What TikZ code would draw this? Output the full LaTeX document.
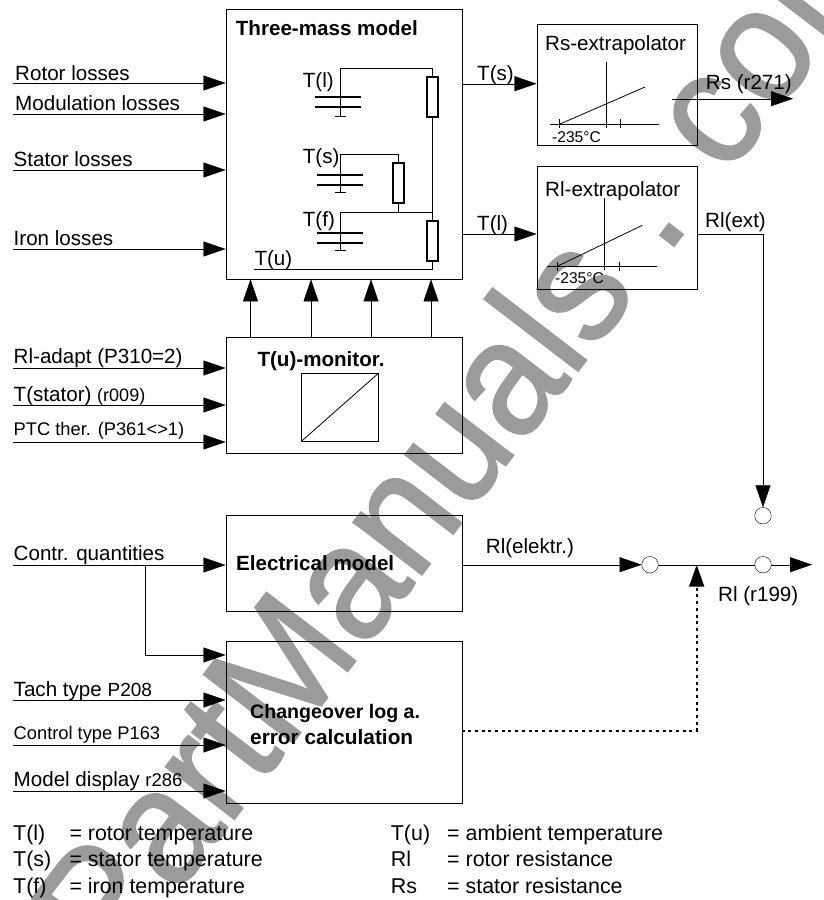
\documentclass[tikz,border=0pt]{standalone}
\usepackage{graphicx}
\usepackage{fontspec}
\setmainfont{Liberation Sans}
\newfontfamily\wmfont[FakeBold=1.2]{Liberation Sans}
\usetikzlibrary{arrows.meta}
\definecolor{wm}{RGB}{155,155,155}
\newcommand{\fs}[1]{\fontsize{#1}{#1}\selectfont}
\tikzset{
  line width=1.1pt,
  txt/.style={inner sep=0pt,anchor=base west,font=\fs{20.6}},
  txts/.style={inner sep=0pt,anchor=base west,font=\fs{18.3}},
  lgd/.style={inner sep=0pt,anchor=base west,font=\fs{21.4}},
  bold/.style={inner sep=0pt,anchor=base west,font=\fs{20.6}\bfseries},
  tiny/.style={inner sep=0pt,anchor=base west,font=\fs{15.6}},
  block/.style={draw,inner sep=0pt,fill=none},
  arr/.style={-{Triangle[length=22pt,width=15pt]}},
  res/.style={draw,line width=2pt,fill=white,inner sep=0pt,minimum width=11pt,minimum height=39.5pt},
  plate/.style={line width=2pt},
  junc/.style={draw,circle,fill=white,inner sep=0pt,minimum size=16.5pt}
}
\begin{document}
\begin{tikzpicture}[x=1pt,y=-1pt]
\useasboundingbox (0,0) rectangle (824,900);
% watermark
\begin{scope}
\clip (0,0) rectangle (824,900);
\node[inner sep=0pt,anchor=base west,rotate=52.5,text=wm,font=\fs{163}\wmfont] (wmark) at (113,977) {\scalebox{.945}[1]{PartManuals . com}};
\end{scope}
% blocks
\node[block,minimum width=236pt,minimum height=270.5pt,anchor=north west] (tm) at (225.5,8.5) {};
\node[block,minimum width=160.5pt,minimum height=121pt,anchor=north west] (rsx) at (536.5,24) {};
\node[block,minimum width=160.5pt,minimum height=123pt,anchor=north west] (rlx) at (536.5,166) {};
\node[block,minimum width=236pt,minimum height=116pt,anchor=north west] (mon) at (225.5,337) {};
\node[block,minimum width=236pt,minimum height=96pt,anchor=north west] (el) at (225.5,515) {};
\node[block,minimum width=236pt,minimum height=162pt,anchor=north west] (cl) at (225.5,641) {};
% block titles
\node[bold] (ttm) at (235.7,35) {Three-mass model};
\node[txt] (trs) at (545,50) {Rs-extrapolator};
\node[txt] (trl) at (545,196) {Rl-extrapolator};
\node[bold] (tmon) at (257.3,366) {T(u)-monitor.};
\node[bold] (tel) at (236,570) {Electrical model};
\node[bold,font=\fs{19.6}\bfseries] (tc1) at (250,718.7) {Changeover log a.};
\node[bold,font=\fs{20.8}\bfseries] (tc2) at (250,744.3) {error calculation};
% input coordinates
\coordinate (i1) at (13,83); \coordinate (i2) at (13,114); \coordinate (i3) at (13,170); \coordinate (i4) at (13,249);
\coordinate (m1) at (13,368); \coordinate (m2) at (13,405); \coordinate (m3) at (13,442);
\coordinate (e1) at (13,565); \coordinate (b1) at (145,565); \coordinate (b2) at (145,655);
\coordinate (c1) at (13,700); \coordinate (c2) at (13,745); \coordinate (c3) at (13,791);
\draw[arr] (i1) -- (i1 -| tm.west);
\draw[arr] (i2) -- (i2 -| tm.west);
\draw[arr] (i3) -- (i3 -| tm.west);
\draw[arr] (i4) -- (i4 -| tm.west);
\draw[arr] (m1) -- (m1 -| mon.west);
\draw[arr] (m2) -- (m2 -| mon.west);
\draw[arr] (m3) -- (m3 -| mon.west);
\draw[arr] (e1) -- (e1 -| el.west);
\draw (b1) -- (b2);
\draw[arr] (b2) -- (b2 -| cl.west);
\draw[arr] (c1) -- (c1 -| cl.west);
\draw[arr] (c2) -- (c2 -| cl.west);
\draw[arr] (c3) -- (c3 -| cl.west);
% input labels
\node[txt] (l1) at (15,80) {Rotor losses};
\node[txt] (l2) at (15,110) {Modulation losses};
\node[txt] (l3) at (13.5,166) {Stator losses};
\node[txt] (l4) at (13.5,245) {Iron losses};
\node[txt] (l5) at (13.5,363) {Rl-adapt (P310=2)};
\node[txt] (l6) at (13.5,401.7) {T(stator) {\fs{18}(r009)}};
\node[txts] (l7) at (13.5,435) {PTC ther. (P361<>1)};
\node[txt] (l8) at (13.5,560) {Contr. quantities};
\node[txt] (l9) at (13.5,696.7) {Tach type {\fs{19}P208}};
\node[txts] (l10) at (13.5,739) {Control type P163};
\node[txt] (l11) at (13.5,786) {Model display {\fs{18.5}r286}};
% monitor to model arrows
\foreach \n/\x in {a/250.5,b/311,c/371,d/431}{
  \coordinate (v\n) at (\x,337);
  \draw[arr] (v\n) -- (v\n |- tm.south);
}
% monitor symbol
\node[block,minimum width=76.7pt,minimum height=67.7pt,anchor=north west] (sym) at (301.3,373.3) {};
\draw[line width=0.8pt] (sym.south west) -- (sym.north east);
% circuit wiring
\coordinate (w1) at (340.7,68); \coordinate (w2) at (432,68); \coordinate (w3) at (432,269.3); \coordinate (w4) at (254,269.3);
\coordinate (g1) at (340.7,116); \coordinate (w5) at (340.7,154.7); \coordinate (w6) at (398.7,154.7); \coordinate (w7) at (398.7,212);
\coordinate (w8) at (340.7,212); \coordinate (w9) at (432,212); \coordinate (g2) at (340.7,192.7); \coordinate (g3) at (340.7,250);
\draw[line width=.9pt] (g1) -- (w1) -- (w2) -- (w3) -- (w4);
\draw[line width=.9pt] (g2) -- (w5) -- (w6) -- (w7);
\draw[line width=.9pt] (g3) -- (w8) -- (w9);
\node[res] (r1) at (432.3,97) {};
\node[res] (r2) at (398.5,183.2) {};
\node[res] (r3) at (432.3,241) {};
\draw[plate] (315.3,96.7) -- (361,96.7); \draw[plate] (315.3,106.7) -- (361,106.7);
\draw[plate] (317.3,175) -- (362.7,175); \draw[plate] (317.3,185) -- (362.7,185);
\draw[plate] (317.3,233) -- (362.7,233); \draw[plate] (317.3,243) -- (362.7,243);
\draw[line width=.9pt] (335,116) -- (345.7,116);
\draw[line width=.9pt] (335,192.7) -- (345.7,192.7);
\draw[line width=.9pt] (335,250) -- (345.7,250);
\node[txt] (tl) at (302.7,87.3) {T(l)};
\node[txt] (ts) at (302.7,163.3) {T(s)};
\node[txt] (tf) at (302.7,226) {T(f)};
\node[txt] (tu) at (254.3,265) {T(u)};
% outputs
\coordinate (o1) at (461.5,83.7); \coordinate (o2) at (461.5,234);
\draw[arr] (o1) -- (o1 -| rsx.west);
\draw[arr] (o2) -- (o2 -| rlx.west);
\node[txt] (ots) at (477,80) {T(s)};
\node[txt] (otl) at (477,230.7) {T(l)};
\coordinate (rs1) at (672,98.7); \coordinate (rs2) at (793,98.7);
\draw[arr] (rs1) -- (rs2);
\node[txt] (lrs) at (705.7,89.3) {Rs (r271)};
% extrapolator plots
\begin{scope}[line width=.8pt]
\draw (606.7,61.7) -- (606.7,128);
\draw (550,124.3) -- (659,124.3);
\draw (559.3,119.3) -- (559.3,128.3);
\draw (620.7,119.3) -- (620.7,128.3);
\draw (559.3,124.3) -- (645,87);
\draw (604.7,198) -- (604.7,270);
\draw (547.3,266.3) -- (657,266.3);
\draw (557.3,262) -- (557.3,270.7);
\draw (619,262) -- (619,270.7);
\draw (557.3,266.3) -- (642.3,225.3);
\end{scope}
\node[tiny] (d1) at (552,142) {-235°C};
\node[tiny] (d2) at (555,283) {-235°C};
% summing part
\node[junc] (j1) at (650,564.7) {};
\node[junc] (j2) at (763,564.7) {};
\node[junc] (j3) at (763,515.7) {};
\coordinate (rx) at (697,234); \coordinate (rc) at (763,234); \coordinate (end) at (812,564.7);
\coordinate (eo) at (461.5,564.7); \coordinate (d0) at (461.5,730.7); \coordinate (dc) at (696.7,730.7); \coordinate (dt) at (696.7,564.7);
\draw (rx) -- (rc);
\draw[arr] (rc) -- (j3.north);
\draw[arr] (eo) -- (j1.west);
\draw (j1) -- (j2);
\draw[arr] (j2.east) -- (end);
\draw[line width=1.6pt,dash pattern=on 3pt off 3.7pt,-{Triangle[length=22pt,width=15pt]}] (d0) -- (dc) -- (dt);
\node[txt] (ext) at (705,227.3) {Rl(ext)};
\node[txt] (elk) at (485.7,553.3) {Rl(elektr.)};
\node[txt] (r199) at (718,601.7) {Rl (r199)};
% legend
\node[lgd] (a1) at (13,840) {T(l)}; \node[lgd] (a2) at (69.3,840) {= rotor temperature};
\node[lgd] (b1t) at (13,866.7) {T(s)}; \node[lgd] (b2t) at (69.3,866.7) {= stator temperature};
\node[lgd] (c1t) at (13,893) {T(f)}; \node[lgd] (c2t) at (69.3,893) {= iron temperature};
\node[lgd] (a3) at (390.7,840) {T(u)}; \node[lgd] (a4) at (447,840) {= ambient temperature};
\node[lgd] (b3t) at (390.7,866.7) {Rl}; \node[lgd] (b4t) at (447,866.7) {= rotor resistance};
\node[lgd] (c3t) at (390.7,893) {Rs}; \node[lgd] (c4t) at (447,893) {= stator resistance};
\end{tikzpicture}
\end{document}
